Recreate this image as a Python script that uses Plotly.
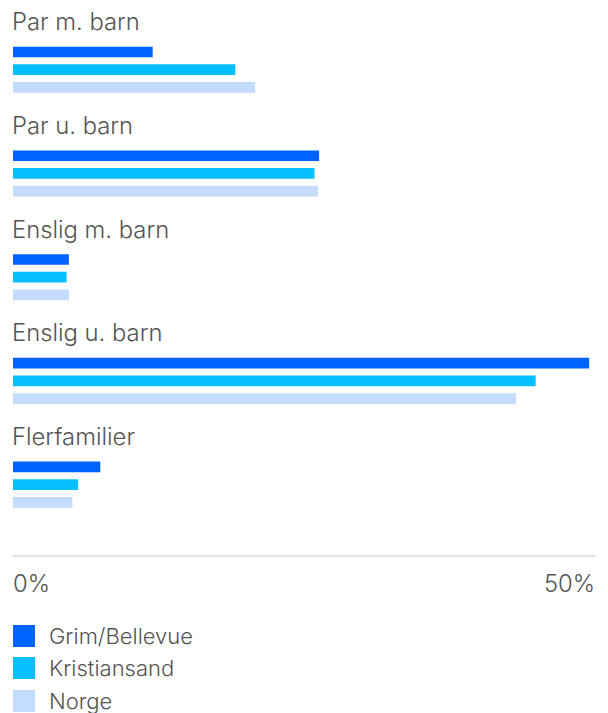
import plotly.graph_objects as go

# Household composition, share of households (%)
categories = ["Par m. barn", "Par u. barn", "Enslig m. barn", "Enslig u. barn", "Flerfamilier"]
series_names = ["Grim/Bellevue", "Kristiansand", "Norge"]
grim = [12.0, 26.3, 4.8, 49.5, 7.5]
kristiansand = [19.1, 25.9, 4.6, 44.9, 5.6]
norge = [20.8, 26.2, 4.8, 43.2, 5.1]
tick_values = [0, 50]
tick_labels = ["0%", "50%"]

colors = ["#0062ff", "#05bfff", "#c4dcff"]
series = [grim, kristiansand, norge]

W, H = 608, 713
PLOT_TOP, PLOT_BOTTOM = 0, 555
FONT = "Inter, Roboto, sans-serif"
TEXT_COLOR = "#555555"
LABEL_FONT = dict(family=FONT, size=23.8, color=TEXT_COLOR, weight=300)
LEGEND_FONT = dict(family=FONT, size=22, color=TEXT_COLOR, weight=300)

fig = go.Figure()
for name, vals, col in zip(series_names, series, colors):
    fig.add_trace(go.Bar(
        y=categories, x=vals, name=name, orientation="h",
        marker=dict(color=col, line=dict(width=0)),
        showlegend=False, hoverinfo="x+name",
    ))

def py(y):
    """Pixel row -> paper y for the plot area."""
    return (PLOT_BOTTOM - y) / (PLOT_BOTTOM - PLOT_TOP)

annotations = []
# group titles above each cluster of bars
for cat in categories:
    annotations.append(dict(
        x=0, y=cat, xref="x", yref="y", text=cat, showarrow=False,
        xanchor="left", yanchor="middle", yshift=48, xshift=-1,
        borderpad=0, borderwidth=0, font=LABEL_FONT,
    ))
# axis tick labels, first left-aligned and last right-aligned
for val, lab, anchor in zip(tick_values, tick_labels, ["left", "right"]):
    annotations.append(dict(
        x=val, y=py(583), xref="x", yref="paper", text=lab, showarrow=False,
        xanchor=anchor, yanchor="middle", borderpad=0, borderwidth=0,
        font=LABEL_FONT,
    ))

# legend with large square swatches
shapes = []
legend_rows = [636, 668, 701]
for name, col, yc in zip(series_names, colors, legend_rows):
    shapes.append(dict(
        type="rect", xref="paper", yref="paper",
        x0=0, x1=22 / (W - 26), y0=py(yc + 11), y1=py(yc - 11),
        fillcolor=col, line=dict(width=0),
    ))
    annotations.append(dict(
        x=36 / (W - 26), y=py(yc), xref="paper", yref="paper", text=name,
        showarrow=False, xanchor="left", yanchor="middle",
        borderpad=0, borderwidth=0, font=LEGEND_FONT,
    ))

fig.update_layout(
    width=W, height=H,
    margin=dict(l=13, r=13, t=PLOT_TOP, b=H - PLOT_BOTTOM, pad=0),
    paper_bgcolor="white", plot_bgcolor="white",
    barmode="group", bargap=0.488, bargroupgap=0.395,
    annotations=annotations, shapes=shapes,
    font=dict(family=FONT, color=TEXT_COLOR),
    xaxis=dict(
        range=[0, 50], showgrid=False, zeroline=False,
        showline=True, linecolor="#dfe4ea", linewidth=1.5,
        showticklabels=False, ticks="", fixedrange=True,
    ),
    yaxis=dict(
        range=[4.678, -0.672], showgrid=False, zeroline=False,
        showline=False, showticklabels=False, ticks="", fixedrange=True,
    ),
)

fig.write_html("out.html")
